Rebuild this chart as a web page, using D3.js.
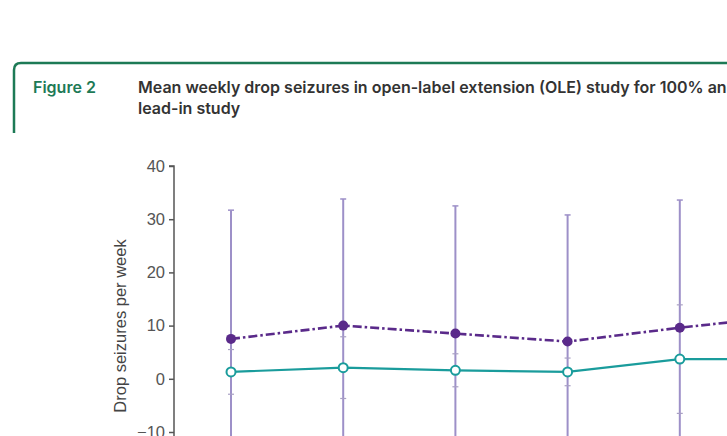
<!DOCTYPE html>
<html>
<head>
<meta charset="utf-8">
<script src="https://cdn.jsdelivr.net/npm/d3@7"></script>
<style>
  html, body { margin: 0; padding: 0; background: #fff; overflow: hidden; }
  svg { display: block; }
</style>
</head>
<body>
<svg></svg>
<script>
var svg = d3.select('svg');

var width = 727;
var height = 436;

svg.attr("width", width)
   .attr("height", height);

// visits (6th one sits just past the right edge of the crop)
var visits = [1, 2, 3, 4, 5, 6];

// 100% arm (filled purple, dash-dot)
var purpleMean = [7.5, 10.0, 8.5, 7.0, 9.6, 11.9];
var purpleSD   = [24.2, 23.8, 24.0, 23.8, 24.0, 24.0];

// other arm (open teal, solid)
var tealMean = [1.3, 2.1, 1.6, 1.3, 3.7, 3.7];
var tealSD   = [4.2, 5.8, 3.1, 2.6, 10.2, 10.0];

var yTicks = [-10, 0, 10, 20, 30, 40];

var figLabel = "Figure 2";
var titleLines = ["Mean weekly drop seizures in open-label extension (OLE) study for 100% and",
                  "lead-in study"];
var yLabel = "Drop seizures per week";

var green = "#1d7a56";
var purple = "#5a2a8a";
var barColor = "#9d90c8";
var teal = "#1a9c9c";

// header box
svg.append("path")
   .attr("d", "M14,133 L14,70 Q14,63 21,63 L740,63")
   .attr("fill", "none")
   .attr("stroke", green)
   .attr("stroke-width", 2.5);

svg.append("text")
   .attr("x", 33)
   .attr("y", 93)
   .attr("fill", green)
   .attr("font-family", "Inter, 'Open Sans', sans-serif")
   .attr("font-weight", 600)
   .attr("font-size", 16)
   .text(figLabel);

svg.selectAll("text.title")
   .data(titleLines)
   .enter()
   .append("text")
   .attr("class", "title")
   .attr("x", 138)
   .attr("y", function(d, i) { return 93 + i * 21 })
   .attr("fill", "#333")
   .attr("font-family", "Inter, 'Open Sans', sans-serif")
   .attr("font-weight", 600)
   .attr("font-size", 16)
   .text(function(d) { return d });

var scaleX = d3.scaleLinear()
               .domain([1, 6])
               .range([231, 792]);

var scaleY = d3.scaleLinear()
               .domain([-10, 40])
               .range([432, 166]);

// y axis
var yAxis = d3.axisLeft(scaleY)
              .tickValues(yTicks)
              .tickSize(5)
              .tickPadding(4);

var gy = svg.append("g")
            .attr("transform", "translate(174,0)")
            .call(yAxis);

gy.select(".domain")
  .attr("d", "M-5," + scaleY(40) + "H0V" + (height + 5))
  .attr("stroke", "#555")
  .attr("stroke-width", 1.5);
gy.selectAll(".tick line").attr("stroke", "#555").attr("stroke-width", 1.5);
gy.selectAll(".tick text")
  .attr("fill", "#555")
  .attr("font-family", "'Liberation Sans', Arial, sans-serif")
  .attr("font-size", 16.5);

svg.append("text")
   .attr("transform", "translate(126,326) rotate(-90)")
   .attr("text-anchor", "middle")
   .attr("fill", "#444")
   .attr("font-family", "'Liberation Sans', Arial, sans-serif")
   .attr("font-size", 16.5)
   .text(yLabel);

var purpleData = visits.map(function(v, i) {
  return { x: v, m: purpleMean[i], sd: purpleSD[i] };
});
var tealData = visits.map(function(v, i) {
  return { x: v, m: tealMean[i], sd: tealSD[i] };
});

// purple error bars
svg.selectAll("line.pbar")
   .data(purpleData)
   .enter()
   .append("line")
   .attr("class", "pbar")
   .attr("x1", function(d) { return scaleX(d.x) })
   .attr("x2", function(d) { return scaleX(d.x) })
   .attr("y1", function(d) { return scaleY(d.m + d.sd) })
   .attr("y2", function(d) { return scaleY(d.m - d.sd) })
   .attr("stroke", barColor)
   .attr("stroke-width", 2);

svg.selectAll("line.pcap")
   .data(purpleData)
   .enter()
   .append("line")
   .attr("class", "pcap")
   .attr("x1", function(d) { return scaleX(d.x) - 3 })
   .attr("x2", function(d) { return scaleX(d.x) + 3 })
   .attr("y1", function(d) { return scaleY(d.m + d.sd) })
   .attr("y2", function(d) { return scaleY(d.m + d.sd) })
   .attr("stroke", barColor)
   .attr("stroke-width", 1.5);

// teal error bar caps (bar itself hides under the purple one)
var tealCaps = [];
tealData.forEach(function(d) {
  tealCaps.push({ x: d.x, v: d.m + d.sd });
  tealCaps.push({ x: d.x, v: d.m - d.sd });
});

svg.selectAll("line.tcap")
   .data(tealCaps)
   .enter()
   .append("line")
   .attr("class", "tcap")
   .attr("x1", function(d) { return scaleX(d.x) - 3 })
   .attr("x2", function(d) { return scaleX(d.x) + 3 })
   .attr("y1", function(d) { return scaleY(d.v) })
   .attr("y2", function(d) { return scaleY(d.v) })
   .attr("stroke", "#a9a0c4")
   .attr("stroke-width", 1.2);

var line = d3.line()
             .x(function(d) { return scaleX(d.x) })
             .y(function(d) { return scaleY(d.m) });

svg.append("path")
   .datum(tealData)
   .attr("d", line)
   .attr("fill", "none")
   .attr("stroke", teal)
   .attr("stroke-width", 2.2);

svg.append("path")
   .datum(purpleData)
   .attr("d", line)
   .attr("fill", "none")
   .attr("stroke", purple)
   .attr("stroke-width", 2.6)
   .attr("stroke-dasharray", "9,3,2.5,3");

svg.selectAll("circle.t")
   .data(tealData)
   .enter()
   .append("circle")
   .attr("class", "t")
   .attr("cx", function(d) { return scaleX(d.x) })
   .attr("cy", function(d) { return scaleY(d.m) })
   .attr("r", 4.5)
   .attr("fill", "#fff")
   .attr("stroke", teal)
   .attr("stroke-width", 2);

svg.selectAll("circle.p")
   .data(purpleData)
   .enter()
   .append("circle")
   .attr("class", "p")
   .attr("cx", function(d) { return scaleX(d.x) })
   .attr("cy", function(d) { return scaleY(d.m) })
   .attr("r", 5)
   .attr("fill", purple);
</script>
</body>
</html>
